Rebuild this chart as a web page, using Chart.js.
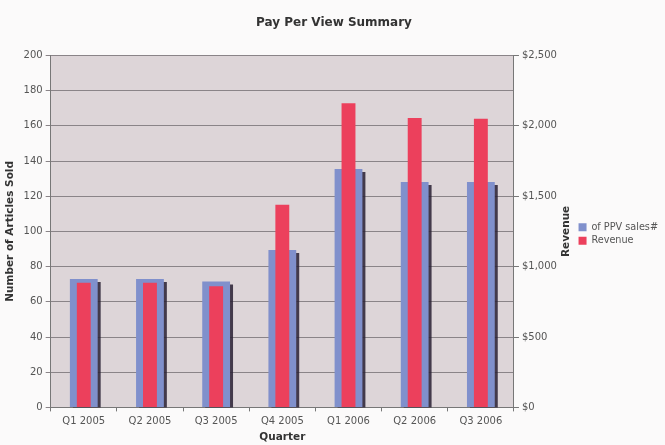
<!DOCTYPE html>
<html>
<head>
<meta charset="utf-8">
<script src="https://cdn.jsdelivr.net/npm/chart.js@4.4.0/dist/chart.umd.min.js"></script>
<style>
  html, body { margin: 0; padding: 0; background: #fbfafa; }
  #wrap { width: 665px; height: 445px; }
</style>
</head>
<body>
<div id="wrap"><canvas id="ppvChart" width="665" height="445"></canvas></div>
<script>
// quarters along the bottom
var quarters = ["Q1 2005", "Q2 2005", "Q3 2005", "Q4 2005", "Q1 2006", "Q2 2006", "Q3 2006"];
// number of PPV articles sold (left axis)
var ppvSales = [73, 73, 71.5, 89.5, 135.5, 128, 128];
// revenue in dollars (right axis)
var revenue = [885, 885, 860, 1440, 2160, 2055, 2050];

var titleFont = { family: 'DejaVu Sans', size: 10.5, weight: 'bold' };

// grey plot background like the old excel chart
var plotBg = {
  id: 'plotBg',
  beforeDraw: function(chart) {
    var a = chart.chartArea, ctx = chart.ctx;
    ctx.save();
    ctx.fillStyle = '#ddd5d8';
    ctx.fillRect(a.left, a.top, a.right - a.left, a.bottom - a.top);
    ctx.restore();
  }
};

// dark drop shadow on the blue bars
var barShadow = {
  id: 'barShadow',
  beforeDatasetDraw: function(chart, args) {
    if (args.index !== 0) return;
    var ctx = chart.ctx;
    ctx.save();
    ctx.shadowColor = 'rgba(40,30,50,0.85)';
    ctx.shadowOffsetX = 3;
    ctx.shadowOffsetY = 3;
  },
  afterDatasetDraw: function(chart, args) {
    if (args.index !== 0) return;
    chart.ctx.restore();
  }
};

// right axis title reads bottom-to-top in the original, chart.js turns it the other way
var rightTitle = {
  id: 'rightTitle',
  afterDraw: function(chart) {
    var s = chart.scales.y1, ctx = chart.ctx;
    ctx.save();
    ctx.translate(s.right - 8, (chart.chartArea.top + chart.chartArea.bottom) / 2);
    ctx.rotate(-Math.PI / 2);
    ctx.font = 'bold 10.5px "DejaVu Sans"';
    ctx.fillStyle = '#333';
    ctx.textAlign = 'center';
    ctx.textBaseline = 'middle';
    ctx.fillText('Revenue', 0, 0);
    ctx.restore();
  }
};

var ctx = document.getElementById('ppvChart').getContext('2d');
var chart = new Chart(ctx, {
  type: 'bar',
  data: {
    labels: quarters,
    datasets: [{
      label: "of PPV sales#",
      data: ppvSales,
      backgroundColor: 'rgb(128,144,204)',
      yAxisID: 'y',
      grouped: false,
      barPercentage: 0.42,
      categoryPercentage: 1.0,
      order: 1
    }, {
      label: "Revenue",
      data: revenue,
      backgroundColor: 'rgb(236,64,92)',
      yAxisID: 'y1',
      grouped: false,
      barPercentage: 0.21,
      categoryPercentage: 1.0,
      order: 0
    }]
  },
  options: {
    responsive: false,
    animation: false,
    layout: { padding: { top: 4, right: -3, bottom: 1, left: 0 } },
    plugins: {
      title: {
        display: true,
        text: 'Pay Per View Summary',
        color: '#333',
        font: { family: 'DejaVu Sans', size: 12, weight: 'bold' },
        padding: { top: 12, bottom: 25 }
      },
      legend: {
        position: 'right',
        // empty title only pushes the two entries down a bit
        title: { display: true, text: ' ', font: { size: 10 }, padding: 4 },
        labels: {
          boxWidth: 8,
          boxHeight: 8,
          padding: 4,
          color: '#555',
          font: { family: 'DejaVu Sans', size: 9.7 },
          sort: function(a, b) { return a.datasetIndex - b.datasetIndex; }
        }
      },
      tooltip: { enabled: false }
    },
    scales: {
      x: {
        grid: { display: true, drawOnChartArea: false, offset: true, color: '#777', tickLength: 4 },
        border: { color: '#777' },
        ticks: { color: '#555', font: { family: 'DejaVu Sans', size: 10 }, padding: 4 },
        title: {
          display: true, text: 'Quarter', color: '#333',
          font: titleFont, padding: 0
        }
      },
      y: {
        position: 'left',
        min: 0, max: 200,
        ticks: { stepSize: 20, color: '#555', font: { family: 'DejaVu Sans', size: 10 } },
        grid: { color: '#8a8488', tickLength: 5 },
        border: { color: '#777' },
        title: {
          display: true, text: 'Number of Articles Sold', color: '#333',
          font: titleFont
        }
      },
      y1: {
        position: 'right',
        min: 0, max: 2500,
        ticks: {
          stepSize: 500, color: '#555', font: { family: 'DejaVu Sans', size: 10 },
          callback: function(v) { return '$' + v.toLocaleString('en-US'); }
        },
        grid: { drawOnChartArea: false, color: '#777', tickLength: 5 },
        border: { color: '#777' },
        title: {
          // space is kept here, the text itself is drawn by rightTitle
          display: true, text: 'Revenue', color: 'rgba(0,0,0,0)',
          font: titleFont, padding: 1
        }
      }
    }
  },
  plugins: [plotBg, barShadow, rightTitle]
});
</script>
</body>
</html>
